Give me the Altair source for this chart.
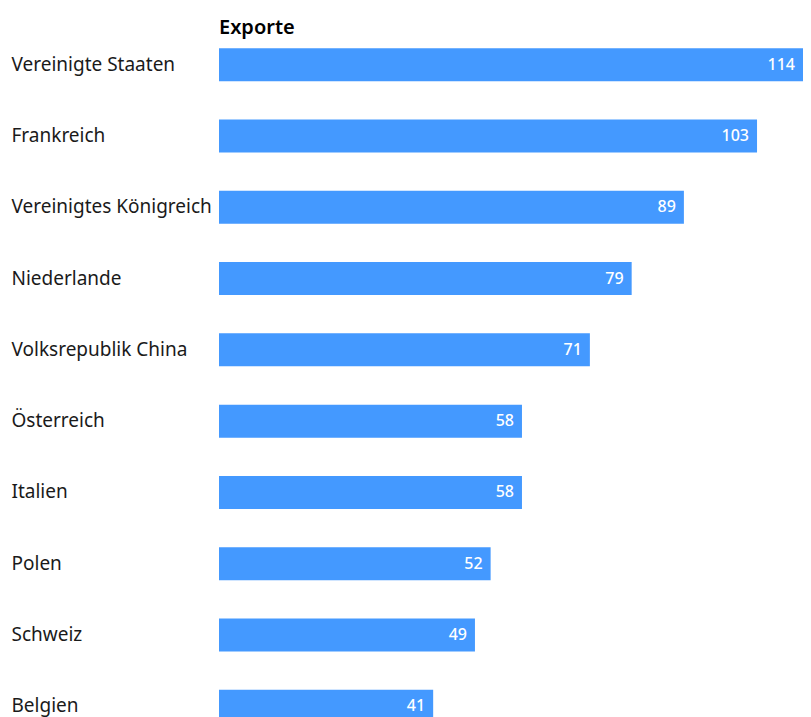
import altair as alt
import pandas as pd

countries = ["Vereinigte Staaten", "Frankreich", "Vereinigtes Königreich", "Niederlande",
             "Volksrepublik China", "Österreich", "Italien", "Polen", "Schweiz", "Belgien"]
exports = [114, 103, 89, 79, 71, 58, 58, 52, 49, 41]

df = pd.DataFrame({"Land": countries, "Exporte": exports})

FONT = "Noto Sans"

y = alt.Y("Land:N", sort=countries,
          scale=alt.Scale(range=[0, 713], paddingInner=0.537, paddingOuter=0.2685),
          axis=alt.Axis(title=None, ticks=False, domain=False, labelAlign="left",
                        labelPadding=208, labelFont=FONT, labelFontSize=19,
                        labelColor="#1a1a1a", labelLimit=260))
x = alt.X("Exporte:Q", scale=alt.Scale(domain=[0, 111.8], nice=False, clamp=True), axis=None)

bars = alt.Chart(df).mark_bar(color="#4499FF", clip=True).encode(x=x, y=y)
labels = alt.Chart(df).mark_text(align="right", baseline="middle", dx=-8, color="white",
                                 font=FONT, fontSize=16, fontWeight=500).encode(
    x=x, y=y, text="Exporte:Q")

chart = alt.layer(bars, labels).properties(
    width=584, height=695,
    title=alt.Title("Exporte", anchor="start", frame="group", font=FONT, fontSize=20,
                    fontWeight=600, color="#000000", baseline="alphabetic", offset=-25),
    autosize=alt.AutoSizeParams(type="none"),
    padding={"left": 211, "top": 21, "right": 0, "bottom": 0},
).configure(background="white").configure_view(stroke=None)

chart.save("out.html", embed_options={"renderer": "svg", "actions": False})
